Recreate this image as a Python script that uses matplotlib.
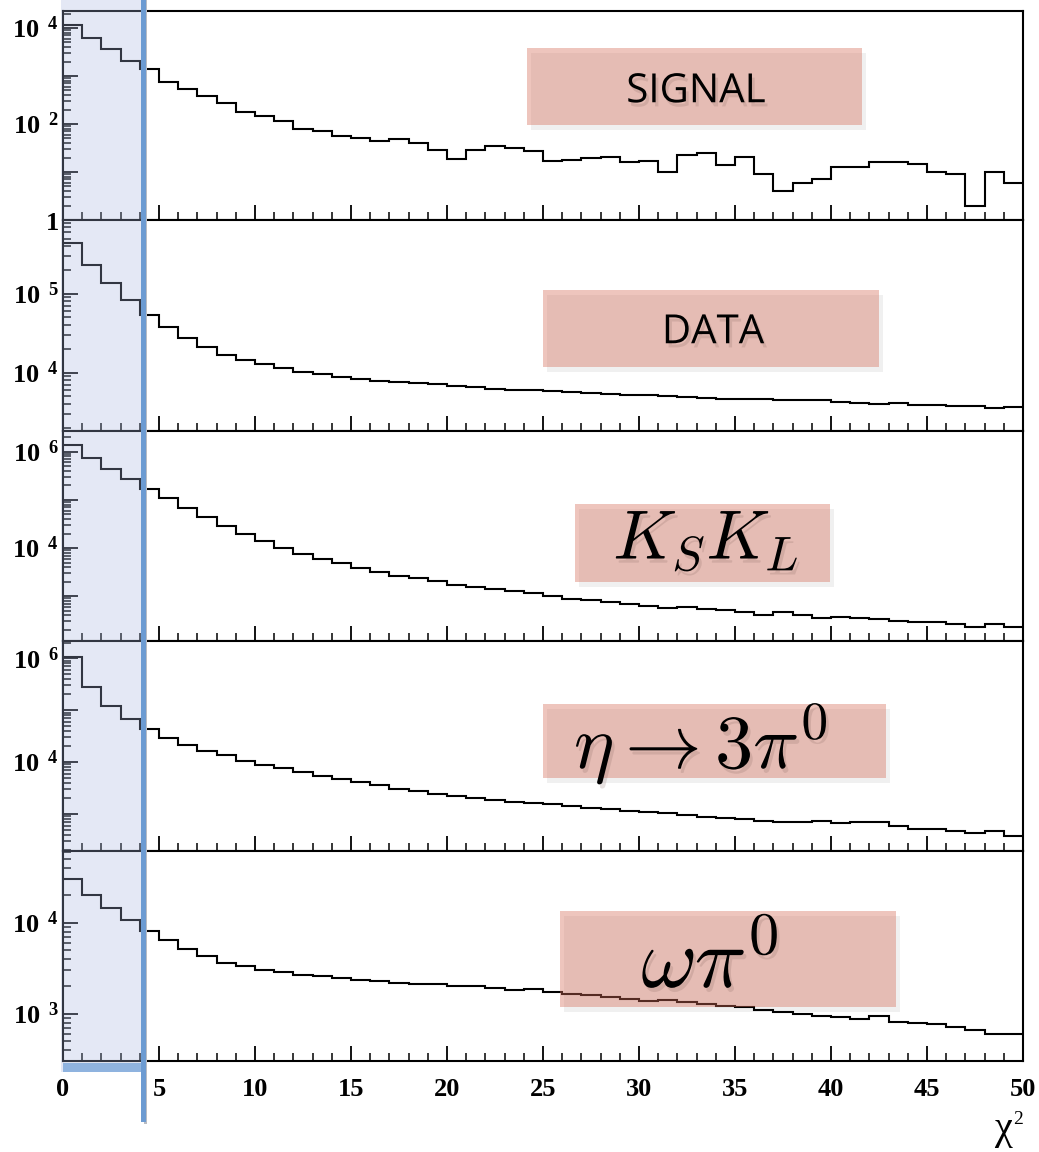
import numpy as np
import matplotlib
matplotlib.use("Agg")
import matplotlib.pyplot as plt
import matplotlib.patheffects as pe
from matplotlib.patches import Rectangle
from matplotlib.ticker import FixedLocator, LogLocator, FuncFormatter, MultipleLocator, NullFormatter

plt.rcParams['mathtext.fontset'] = 'custom'
plt.rcParams['mathtext.rm'] = 'Liberation Serif'
plt.rcParams['mathtext.bf'] = 'Liberation Serif:bold'

W, H = 1039, 1152

# chi2 bins 0..50, width 1
edges = np.arange(0, 51, 1)

signal = [11500, 6300, 3600, 2090, 1380, 760, 525, 375, 270, 182,
          147, 114, 80, 71, 56, 52, 45, 49, 41, 29,
          19, 29, 34, 31, 28, 17, 18, 20, 21, 16,
          17, 10, 23, 25, 14, 21, 9, 4, 6, 7,
          13, 13, 16, 16, 15, 10, 9, 2, 10, 6]

data = [442000, 229000, 135000, 83200, 53300, 37500, 27500, 20900, 16800, 14450,
        12800, 11400, 10300, 9550, 8910, 8320, 7940, 7590, 7410, 7080,
        6760, 6610, 6170, 6030, 5980, 5890, 5620, 5500, 5370, 5250,
        5190, 5010, 4900, 4790, 4680, 4620, 4570, 4560, 4520, 4470,
        4270, 4170, 3980, 4070, 3890, 3880, 3760, 3750, 3550, 3630]

kskl = [1380000, 750000, 447000, 275000, 170000, 107000, 67600, 43600, 28800, 19500,
        14100, 10000, 7590, 6030, 4790, 3890, 3160, 2690, 2340, 2040,
        1740, 1580, 1410, 1260, 1150, 1020, 891, 832, 776, 692,
        617, 575, 589, 550, 513, 468, 417, 468, 407, 347,
        372, 347, 331, 309, 295, 288, 269, 234, 269, 234]

eta3pi0 = [1050000, 282000, 120000, 67600, 42700, 28800, 21400, 16600, 13500, 10700,
           8910, 7590, 6460, 5500, 4680, 4170, 3630, 3090, 2820, 2450,
           2190, 2040, 1860, 1740, 1660, 1550, 1410, 1320, 1260, 1150,
           1100, 1050, 977, 891, 832, 794, 741, 708, 692, 741,
           676, 692, 690, 589, 525, 524, 468, 437, 468, 380]

omegapi0 = [30200, 20000, 14500, 10700, 8130, 6460, 5130, 4270, 3630, 3310,
            3020, 2880, 2690, 2570, 2450, 2340, 2290, 2190, 2140, 2130,
            2040, 2000, 1910, 1820, 1860, 1740, 1660, 1620, 1510, 1450,
            1380, 1410, 1350, 1290, 1230, 1200, 1100, 1050, 1000, 933,
            912, 871, 955, 813, 794, 776, 708, 661, 603, 600]

series = [signal, data, kskl, eta3pi0, omegapi0]
names = ["SIGNAL", "DATA", r"$K_SK_L$", r"$\eta\rightarrow3\pi^0$", r"$\omega\pi^0$"]
ylog_lims = [(0, 4.354), (3.26, 5.935), (2.07, 6.43), (2.29, 6.33), (2.48, 4.79)]
labelled_exp = [[0, 2, 4], [4, 5], [4, 6], [4, 6], [3, 4]]
xticks = [0, 5, 10, 15, 20, 25, 30, 35, 40, 45, 50]
cut = 4.2


def fx(px):
    return px / W


def fy(py):
    return 1 - py / H


def fmt_exp(labs):
    def f(v, pos):
        e = int(round(np.log10(v)))
        if e not in labs:
            return ""
        if e == 0:
            return r"$\mathbf{1}$"
        return r"$\mathbf{10^{\ \,%d}}$" % e
    return f


fig = plt.figure(figsize=(W / 100, H / 100), dpi=100)
fig.patch.set_facecolor("white")

tops = [11, 220, 431, 641, 851]
bots = [220, 431, 641, 851, 1061]
L, R = 63, 1023

axes = []
for i in range(5):
    ax = fig.add_axes([fx(L), fy(bots[i]), fx(R - L), (bots[i] - tops[i]) / H])
    ax.stairs(series[i], edges, baseline=None, color="black", lw=1.5, zorder=3)
    ax.set_yscale("log")
    ax.set_xlim(0, 50)
    lo, hi = ylog_lims[i]
    ax.set_ylim(10 ** lo, 10 ** hi)
    decs = [10.0 ** e for e in range(int(np.floor(lo)), int(np.ceil(hi)) + 1)]
    ax.yaxis.set_major_locator(FixedLocator(decs))
    ax.yaxis.set_minor_locator(LogLocator(base=10, subs=np.arange(2, 10), numticks=50))
    ax.yaxis.set_major_formatter(FuncFormatter(fmt_exp(labelled_exp[i])))
    ax.yaxis.set_minor_formatter(NullFormatter())
    ax.xaxis.set_major_locator(FixedLocator(xticks))
    ax.xaxis.set_minor_locator(MultipleLocator(1))
    ax.tick_params(axis="both", which="major", direction="in", length=11, width=1.3,
                   top=False, right=False, labelsize=19)
    ax.tick_params(axis="both", which="minor", direction="in", length=5.5, width=1.1,
                   top=False, right=False)
    ax.tick_params(axis="y", which="major", pad=3)
    ax.tick_params(axis="x", which="major", pad=12, labelsize=19)
    for lab in ax.get_xticklabels():
        lab.set_fontfamily("Liberation Serif")
        lab.set_fontweight("bold")
    if i < 4:
        ax.tick_params(axis="x", labelbottom=False)
    for s in ax.spines.values():
        s.set_linewidth(1.5)
    axes.append(ax)

# shaded accepted region and the cut line
x_cut_px = L + (R - L) * cut / 50
fig.add_artist(Rectangle((fx(61), fy(1072)), fx(x_cut_px - 61), 1072 / H,
                         transform=fig.transFigure, facecolor="#a8b6de", alpha=0.3,
                         edgecolor="none", zorder=10))
fig.add_artist(Rectangle((fx(63), fy(1072)), fx(x_cut_px - 66), 9 / H,
                         transform=fig.transFigure, facecolor="#8fb3df",
                         edgecolor="none", zorder=11))
fig.add_artist(Rectangle((fx(x_cut_px), fy(1124)), fx(3), 1124 / H,
                         transform=fig.transFigure, facecolor="#b8bcc4",
                         edgecolor="none", zorder=11))
fig.add_artist(Rectangle((fx(x_cut_px - 2.5), fy(1122)), fx(5), 1122 / H,
                         transform=fig.transFigure, facecolor="#6c9bd2",
                         edgecolor="none", zorder=12))

# label boxes
boxes = [(527, 48, 862, 125), (543, 290, 879, 367), (575, 504, 830, 582),
         (543, 704, 886, 778), (560, 911, 896, 1007)]
text_pos = [(696, 92, "center"), (713, 333, "center"), (706, 559, "baseline"),
            (701, 768, "baseline"), (710, 987, "baseline")]
sizes = [29, 29, 50, 55, 62]
box_rgba = (213 / 255, 110 / 255, 90 / 255, 0.4)
for i in range(5):
    x0, y0, x1, y1 = boxes[i]
    fig.add_artist(Rectangle((fx(x0 + 4), fy(y1 + 5)), fx(x1 - x0), (y1 - y0) / H,
                             transform=fig.transFigure, facecolor=(0, 0, 0, 0.06),
                             edgecolor="none", zorder=13))
    fig.add_artist(Rectangle((fx(x0), fy(y1)), fx(x1 - x0), (y1 - y0) / H,
                             transform=fig.transFigure, facecolor=box_rgba,
                             edgecolor="none", zorder=13))
    tx, ty, va = text_pos[i]
    shadow = [pe.withSimplePatchShadow(offset=(2, -3), shadow_rgbFace="#7a5a55", alpha=0.18)]
    if i < 2:
        fig.text(fx(tx), fy(ty), names[i], ha="center", va=va, fontsize=sizes[i],
                 family="Open Sans", color="black", zorder=14, path_effects=shadow)
    else:
        fig.text(fx(tx), fy(ty), names[i], ha="center", va=va, fontsize=sizes[i],
                 math_fontfamily="cm", color="black", zorder=14, path_effects=shadow)

# axis title
fig.text(fx(1003), fy(1148), "\u03c7", ha="center", va="bottom", fontsize=29,
         family="Liberation Serif")
fig.text(fx(1018), fy(1128), "2", ha="center", va="bottom", fontsize=14,
         family="Liberation Serif")

fig.savefig("out.png", dpi=100)
